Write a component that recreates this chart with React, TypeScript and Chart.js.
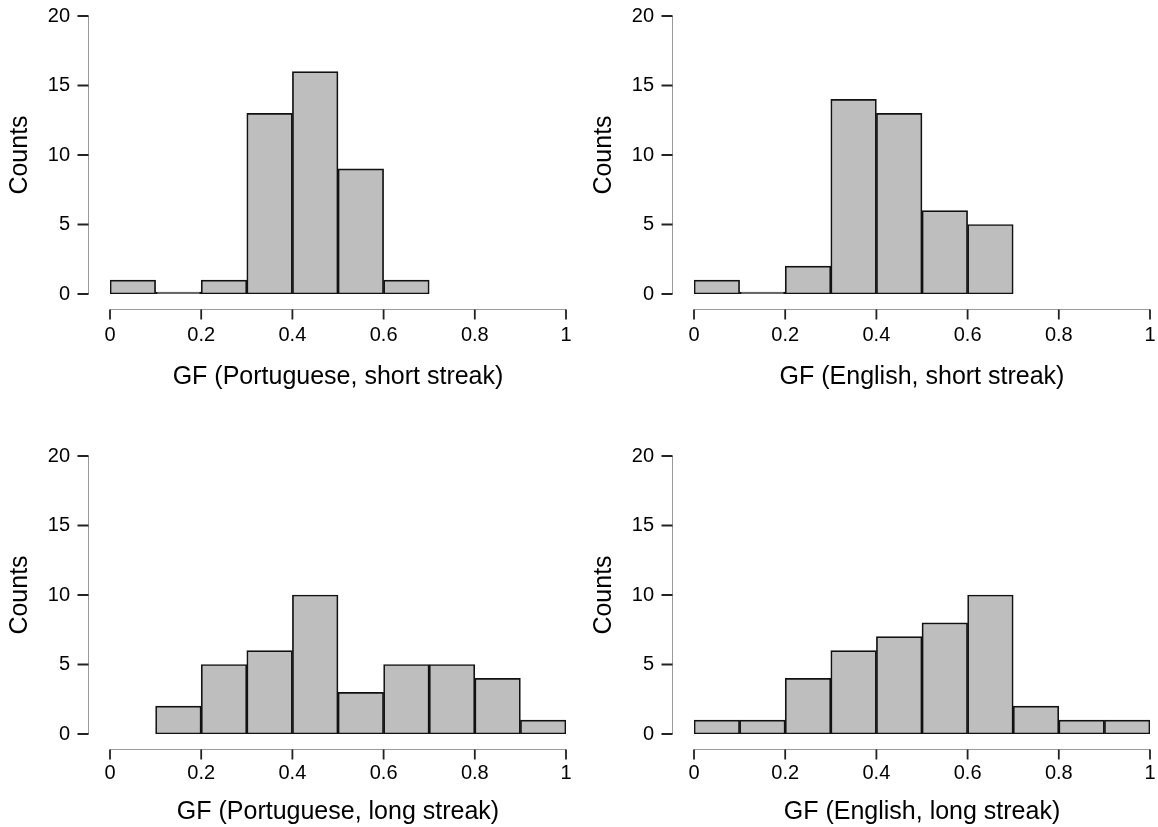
import React, { useEffect, useRef } from "react";
import { Chart, registerables } from "chart.js";

Chart.register(...registerables);

// ---- data ----
const xTickValues = [0, 0.2, 0.4, 0.6, 0.8, 1];
const xTickLabels = ["0", "0.2", "0.4", "0.6", "0.8", "1"];
const yTickValues = [0, 5, 10, 15, 20];
const yTickLabels = ["0", "5", "10", "15", "20"];

const ptShortBins = [0.05, 0.15, 0.25, 0.35, 0.45, 0.55, 0.65];
const ptShortCounts = [1, 0, 1, 13, 16, 9, 1];

const enShortBins = [0.05, 0.15, 0.25, 0.35, 0.45, 0.55, 0.65];
const enShortCounts = [1, 0, 2, 14, 13, 6, 5];

const ptLongBins = [0.15, 0.25, 0.35, 0.45, 0.55, 0.65, 0.75, 0.85, 0.95];
const ptLongCounts = [2, 5, 6, 10, 3, 5, 5, 4, 1];

const enLongBins = [0.05, 0.15, 0.25, 0.35, 0.45, 0.55, 0.65, 0.75, 0.85, 0.95];
const enLongCounts = [1, 1, 4, 6, 7, 8, 10, 2, 1, 1];

const yTitle = "Counts";
const titlePtShort = "GF (Portuguese, short streak)";
const titleEnShort = "GF (English, short streak)";
const titlePtLong = "GF (Portuguese, long streak)";
const titleEnLong = "GF (English, long streak)";

const FONT = '"Liberation Sans", Arial, Helvetica, sans-serif';
const TICK_SIZE = 20;
const TITLE_SIZE = 25;

const rAxesPlugin = {
  id: "rAxes",
  afterDraw(chart: any) {
    const { ctx } = chart;
    const xs = chart.scales.x;
    const ys = chart.scales.y;
    const x0 = xs.getPixelForValue(xs.min);
    const x1 = xs.getPixelForValue(xs.max);
    const yb = ys.getPixelForValue(ys.min);
    const yt = ys.getPixelForValue(ys.max);
    const axX = Math.round(x0 - 22) + 0.5;
    const axY = Math.round(yb + 15) + 0.5;
    ctx.save();
    ctx.strokeStyle = "#9a9a9a";
    ctx.lineWidth = 1;
    ctx.beginPath();
    ctx.moveTo(axX, yb);
    ctx.lineTo(axX, yt);
    ctx.moveTo(x0, axY);
    ctx.lineTo(x1, axY);
    ctx.stroke();
    ctx.strokeStyle = "#222";
    ctx.lineWidth = 1.8;
    ctx.beginPath();
    ys.ticks.forEach((t: any) => {
      const py = ys.getPixelForValue(t.value);
      ctx.moveTo(axX - 11, py);
      ctx.lineTo(axX, py);
    });
    xs.ticks.forEach((t: any) => {
      const px = xs.getPixelForValue(t.value);
      ctx.moveTo(px, axY);
      ctx.lineTo(px, axY + 10);
    });
    ctx.stroke();
    ctx.restore();
  },
};

type PanelProps = {
  bins: number[];
  counts: number[];
  title: string;
  left: number;
  top: number;
  width: number;
  height: number;
  padRight: number;
  xScaleHeight: number;
  xTickPad: number;
  xTitlePad: number;
};

function Panel(p: PanelProps) {
  const ref = useRef<HTMLCanvasElement | null>(null);
  useEffect(() => {
    if (!ref.current) return;
    const chart = new Chart(ref.current, {
      type: "bar",
      data: {
        datasets: [
          {
            data: p.bins.map((b, i) => ({ x: b, y: p.counts[i] })),
            backgroundColor: "#bebebe",
            borderColor: "#111111",
            borderWidth: 1.7,
            borderSkipped: false,
            minBarLength: 2,
            barPercentage: 1,
            categoryPercentage: 1,
          } as any,
        ],
      },
      options: {
        animation: false,
        responsive: false,
        events: [],
        layout: { padding: { left: 0, top: 16, right: p.padRight, bottom: 0 } },
        plugins: { legend: { display: false }, tooltip: { enabled: false } },
        scales: {
          x: {
            type: "linear",
            min: 0,
            max: 1,
            offset: false,
            afterBuildTicks: (s: any) => {
              s.ticks = xTickValues.map((v) => ({ value: v }));
            },
            afterFit: (s: any) => {
              s.height = p.xScaleHeight;
              s.paddingLeft = 0;
              s.paddingRight = 0;
              s.paddingTop = 0;
              s.paddingBottom = 0;
            },
            grid: { display: false, drawTicks: false, offset: false },
            border: { display: false },
            ticks: {
              padding: p.xTickPad,
              color: "#000",
              font: { family: FONT, size: TICK_SIZE },
              maxRotation: 0,
              autoSkip: false,
              callback: (_v: any, i: number) => xTickLabels[i],
            },
            title: {
              display: true,
              text: p.title,
              color: "#000",
              font: { family: FONT, size: TITLE_SIZE },
              padding: { top: 0, bottom: p.xTitlePad },
            },
          },
          y: {
            type: "linear",
            min: 0,
            max: 20,
            afterBuildTicks: (s: any) => {
              s.ticks = yTickValues.map((v) => ({ value: v }));
            },
            afterFit: (s: any) => {
              s.width = 110;
              s.paddingLeft = 0;
              s.paddingRight = 0;
              s.paddingTop = 0;
              s.paddingBottom = 0;
            },
            grid: { display: false, drawTicks: false },
            border: { display: false },
            ticks: {
              padding: 40,
              color: "#000",
              font: { family: FONT, size: TICK_SIZE },
              callback: (_v: any, i: number) => yTickLabels[i],
            },
            title: {
              display: true,
              text: yTitle,
              color: "#000",
              font: { family: FONT, size: TITLE_SIZE },
              padding: { top: 5, bottom: 0 },
            },
          },
        },
      } as any,
      plugins: [rAxesPlugin],
    });
    return () => chart.destroy();
  }, []);
  return (
    <canvas
      ref={ref}
      width={p.width}
      height={p.height}
      style={{ position: "absolute", left: p.left, top: p.top, width: p.width, height: p.height, display: "block" }}
    />
  );
}

export default function App() {
  const topRow = { top: 0, height: 394, xScaleHeight: 100, xTickPad: 29, xTitlePad: 2 };
  const botRow = { top: 440, height: 387, xScaleHeight: 93, xTickPad: 27, xTitlePad: 0 };
  const leftCol = { left: 0, width: 579, padRight: 13 };
  const rightCol = { left: 584, width: 574, padRight: 8 };
  return (
    <div style={{ position: "absolute", left: 0, top: 0, width: 1158, height: 827, background: "#fff", overflow: "hidden" }}>
      <Panel bins={ptShortBins} counts={ptShortCounts} title={titlePtShort} {...topRow} {...leftCol} />
      <Panel bins={enShortBins} counts={enShortCounts} title={titleEnShort} {...topRow} {...rightCol} />
      <Panel bins={ptLongBins} counts={ptLongCounts} title={titlePtLong} {...botRow} {...leftCol} />
      <Panel bins={enLongBins} counts={enLongCounts} title={titleEnLong} {...botRow} {...rightCol} />
    </div>
  );
}
